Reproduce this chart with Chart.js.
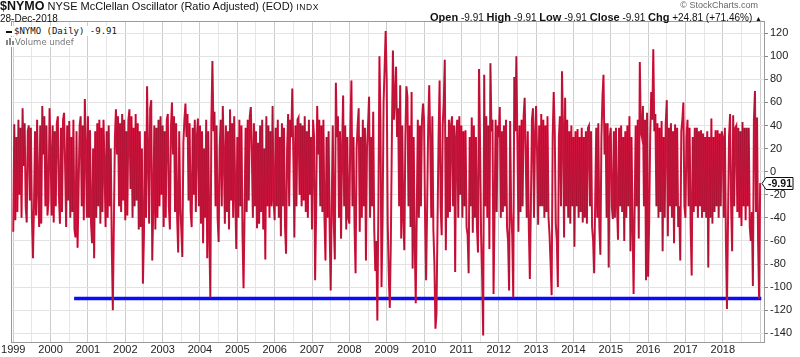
<!DOCTYPE html>
<html><head><meta charset="utf-8">
<script src="https://cdn.jsdelivr.net/npm/chart.js@4/dist/chart.umd.min.js"></script>
<style>
body{margin:0;background:#fff;width:800px;height:357px;overflow:hidden;position:relative;font-family:"Liberation Sans",Arial,sans-serif;}
#c{position:absolute;left:0;top:0;}
.t{position:absolute;white-space:nowrap;color:#111;line-height:1.15;}
.lg{position:absolute;white-space:nowrap;background:#fff;}
</style></head><body>
<canvas id="c" width="800" height="357"></canvas>
<div class="t" style="left:0;top:-1px;font-size:11px"><b style="font-size:12.5px">$NYMO</b> NYSE McClellan Oscillator (Ratio Adjusted) (EOD) <span style="font-size:8.5px;letter-spacing:0.6px">INDX</span></div>
<div class="t" style="left:0;top:13px;font-size:10px">28-Dec-2018</div>
<div class="t" style="right:42px;top:0px;font-size:9px;color:#666">© StockCharts.com</div>
<div class="t" style="right:38px;top:11px;font-size:10px"><b style="font-size:11px">Open</b> -9.91 <b style="font-size:11px">High</b> -9.91 <b style="font-size:11px">Low</b> -9.91 <b style="font-size:11px">Close</b> -9.91 <b style="font-size:11px">Chg</b> +24.81 (+71.46%) <span style="font-size:7px">▲</span></div>
<div class="lg" style="left:6px;top:26px;font-family:'DejaVu Sans Mono',monospace;font-size:9px;color:#111;"><span style="display:inline-block;width:6px;height:2px;background:#111;vertical-align:middle;margin-right:2px"></span>$NYMO (Daily) -9.91</div>
<div class="lg" style="left:6px;top:37px;font-family:'DejaVu Sans',sans-serif;font-size:8.5px;color:#777;"><span style="display:inline-block;width:2px;height:5px;background:#888;margin-right:1px"></span><span style="display:inline-block;width:2px;height:7px;background:#888;margin-right:1px"></span><span style="display:inline-block;width:2px;height:4px;background:#888;margin-right:1px"></span>Volume undef</div>
<script>
// NYSE McClellan Oscillator, ~36 readings per year
const y1999 = [-52, 41, -42, 30, -35, 45, -20, 38, -40, 55, 5, 42, -30, -44, 35, 40, -25, 38, -40, -75, -30, 35, -38, 45, -15, -48, 40, -45, 57, 15, 48, -30, 40, -38, -25, 55];
const y2000 = [15, -38, 40, -44, 35, -30, 42, 48, -20, -45, 38, -35, 45, 51, 5, -48, 40, -25, 44, -40, 30, -35, 45, -50, -57, 35, -66, -15, 40, 48, -30, 40, -42, 63, 20, -40];
const y2001 = [48, -40, 36, -45, -62, 20, -75, 35, -40, 42, -30, 45, -45, 38, -35, 45, 5, -48, 35, -40, 40, -30, 20, -65, -120, -45, 30, 54, 15, 48, -30, 42, -35, 50, -25, 45];
const y2002 = [-42, 35, -38, 45, 54, -15, 48, -40, 38, -30, 50, -25, 42, -50, 35, -48, 20, -97, -55, 35, -40, 74, 15, -45, 55, 62, -77, -30, 40, -50, 38, -40, 45, -30, 48, -20];
const y2003 = [40, -48, 35, -40, 45, 50, -30, -50, 38, 60, 15, 48, -35, 42, -40, -70, 35, -30, -50, -74, 25, 45, 59, 30, 50, -25, 42, -35, -48, 38, -20, 45, -35, 30, 46, -30];
const y2004 = [40, -45, 35, -62, 20, -40, 45, -75, 35, -55, -109, 45, 96, 35, 52, -30, 40, -40, -61, 20, 45, -30, 57, 15, -45, 40, -35, 35, -50, 54, -25, 42, -40, 48, -20, -67];
const y2005 = [30, -40, 45, -30, 40, -55, -101, -35, 38, -35, 45, -25, 48, 56, 15, -40, 42, -30, 35, -49, 25, -45, 40, -35, 45, -50, 20, -76, 48, -30, 40, -40, 35, -30, 57, -25];
const y2006 = [-42, 38, -30, 45, -40, 30, -56, 42, -30, 38, -48, -71, 20, 50, -30, 45, 30, 72, 15, -57, 40, -30, 45, 47, -20, 42, -30, 40, -25, 48, -35, 35, -40, 45, -20, 30];
const y2007 = [-50, 45, 30, -94, -35, 57, 15, 45, -30, 40, -35, 45, -40, -77, 30, -40, 35, -50, -103, -30, 40, -45, -76, 77, 30, 48, -40, 35, -58, 20, 66, -30, 40, -50, 30, -40];
const y2008 = [-45, 40, 79, -30, 30, -48, -88, 20, 40, 55, -52, 30, -40, 45, -30, 38, -77, 20, 40, 65, -40, 30, -30, 52, -50, -86, -60, -129, -30, 100, 45, -100, -45, 60, 90, 122];
const y2009 = [80, -45, -90, -118, -60, 30, 105, 45, 62, 91, 30, 55, -30, 75, -58, 40, -40, -68, 30, 74, 65, -30, 40, -48, 69, -84, 30, -60, -114, -35, 45, -40, 40, -30, 45, 59];
const y2010 = [45, -40, -94, -30, 40, 75, 25, -40, 48, -50, -80, -136, -123, -45, 30, 79, -30, -55, 40, 60, 97, -68, 30, -40, 45, -35, 40, 48, -30, 40, -87, 30, 45, -40, 48, -20];
const y2011 = [40, -40, 35, -30, 36, -48, -55, -88, 30, -30, 47, -53, 40, -40, 30, -48, -70, 89, 25, -55, -90, -142, 84, -30, 48, -40, 40, -67, 94, 35, 45, -106, -35, 45, -35, 40];
const y2012 = [30, 56, -40, 35, -35, 40, -30, 45, -48, -60, -103, 44, -35, -55, -109, 82, 35, 100, 25, -52, 40, -35, 45, -30, 48, 64, 15, -40, 35, -48, -93, -30, 45, 55, -40, 30];
const y2013 = [57, 15, -46, 40, -30, 50, -30, 45, -40, 40, -35, 48, -40, -55, -80, -107, 30, 69, 35, -45, -60, -100, 30, 48, -30, 87, 35, -57, 64, -30, 45, -40, 35, -45, 40, -30];
const y2014 = [30, -65, 35, -30, 37, -40, 30, -35, 38, -44, 30, -40, 35, -45, 38, 40, -30, 35, -48, -60, -88, -25, 38, -40, 42, -48, -72, 30, 65, 84, 15, 42, -40, 42, -83, 30];
const y2015 = [38, -30, -41, 35, -40, 38, -30, -59, 38, -30, 40, -35, 30, -60, 35, -40, 40, -30, 48, -69, 30, -45, -106, -35, 40, -30, 45, -58, 95, 35, 30, 57, -30, 45, -94, 51];
const y2016 = [-91, -45, 30, 69, 45, 106, 35, 50, -30, 42, -40, 38, -35, 44, -69, 30, -40, 42, 62, -56, 38, -30, 42, -40, 35, -62, 41, -30, 38, -48, -30, -77, 35, 45, 60, -30];
const y2017 = [-40, 30, 45, -30, 38, -48, -90, 30, -35, 38, -30, 38, -40, 35, -30, 36, -40, 33, -35, 30, -40, 35, -83, 30, -40, 46, -45, 30, -35, 36, -30, 36, -40, 33, -30, 35];
const y2018 = [30, -40, 38, -60, -119, -45, 30, 50, -30, -69, 49, -30, 38, 40, -35, 38, -40, 35, -47, 43, -30, 38, -42, 38, -30, 38, -48, -60, -35, -99, 45, 70, -35, 47, -60, -110];
const lastClose = -9.91;

const firstYear = 1999;
const readingsPerYear = 36;
const yearLabels = [1999,2000,2001,2002,2003,2004,2005,2006,2007,2008,2009,2010,2011,2012,2013,2014,2015,2016,2017,2018];
const yTickValues = [-140,-120,-100,-80,-60,-40,-20,0,20,40,60,80,100,120];
const thresholdLevel = -110;
const thresholdFrom = 2000.63;
const thresholdTo = 2019.03;

const yearSeries = [y1999,y2000,y2001,y2002,y2003,y2004,y2005,y2006,y2007,y2008,y2009,y2010,y2011,y2012,y2013,y2014,y2015,y2016,y2017,y2018];
const pts = [];
let idx = 0;
yearSeries.forEach(arr => arr.forEach(v => { pts.push({x: firstYear + idx / readingsPerYear, y: v}); idx++; }));
pts.push({x: firstYear + idx / readingsPerYear, y: lastClose});

const xTickValues = [];
yearLabels.forEach(y => { xTickValues.push(y); xTickValues.push(y + 0.5); });
xTickValues.push(yearLabels[yearLabels.length-1] + 1);

const frame = {
  id: 'frame',
  afterDraw(chart) {
    const {ctx, chartArea: a, scales} = chart;
    ctx.save();
    ctx.strokeStyle = '#9a9a9a'; ctx.lineWidth = 1;
    ctx.strokeRect(a.left + 0.5, a.top + 0.5, a.right - a.left - 1, a.bottom - a.top);
    const py = Math.round(scales.y.getPixelForValue(lastClose)) + 0.5;
    const x0 = a.right - 3, x1 = a.right + 1, x2 = a.right + 28;
    ctx.beginPath();
    ctx.moveTo(x0, py); ctx.lineTo(x1, py - 6); ctx.lineTo(x2, py - 6); ctx.lineTo(x2, py + 6); ctx.lineTo(x1, py + 6); ctx.closePath();
    ctx.fillStyle = '#fff'; ctx.fill();
    ctx.strokeStyle = '#111'; ctx.lineWidth = 1; ctx.stroke();
    ctx.fillStyle = '#111'; ctx.font = 'bold 10.5px "Liberation Sans", Arial, sans-serif';
    ctx.textAlign = 'center'; ctx.textBaseline = 'middle';
    ctx.fillText(lastClose.toFixed(2), (x1 + x2) / 2 + 0.5, py + 0.5);
    ctx.restore();
  }
};

new Chart(document.getElementById('c').getContext('2d'), {
  type: 'line',
  data: { datasets: [
    { data: pts, borderColor: 'rgba(40,20,25,0.28)', borderWidth: 0.6, pointRadius: 0, tension: 0, order: 0 },
    { data: pts, borderColor: '#d8153f', borderWidth: 2, pointRadius: 0, tension: 0, order: 1 },
    { data: [{x: thresholdFrom, y: thresholdLevel}, {x: thresholdTo, y: thresholdLevel}], borderColor: '#0b0bf5', borderWidth: 3.5, pointRadius: 0, order: 2 }
  ]},
  options: {
    responsive: false, animation: false, devicePixelRatio: 1,
    layout: { padding: { left: 4, top: 21, right: 0, bottom: 0 } },
    plugins: { legend: { display: false }, tooltip: { enabled: false } },
    scales: {
      x: {
        type: 'linear', min: 1998.94, max: 2019.13,
        afterFit(s) { s.height = 15; },
        afterBuildTicks(s) { s.ticks = xTickValues.map(v => ({value: v})); },
        ticks: { autoSkip: false, maxRotation: 0, padding: 1, color: '#222',
          font: { family: '"Liberation Sans", Arial, sans-serif', size: 11 },
          callback: v => (Number.isInteger(v) && yearLabels.includes(v)) ? String(v) : '' },
        grid: { drawTicks: false, color: c => (c.tick && Number.isInteger(c.tick.value)) ? '#cdcdcd' : '#e6e6e6' },
        border: { display: false }
      },
      y: {
        position: 'right', min: -147.6, max: 130.6,
        afterFit(s) { s.width = 35; },
        afterBuildTicks(s) { s.ticks = yTickValues.map(v => ({value: v})); },
        ticks: { padding: 2, color: '#222', font: { family: '"Liberation Sans", Arial, sans-serif', size: 11 } },
        grid: { color: '#e3e3e3', tickLength: 3, tickColor: '#888' },
        border: { display: false }
      }
    }
  },
  plugins: [frame]
});
</script>
</body></html>
